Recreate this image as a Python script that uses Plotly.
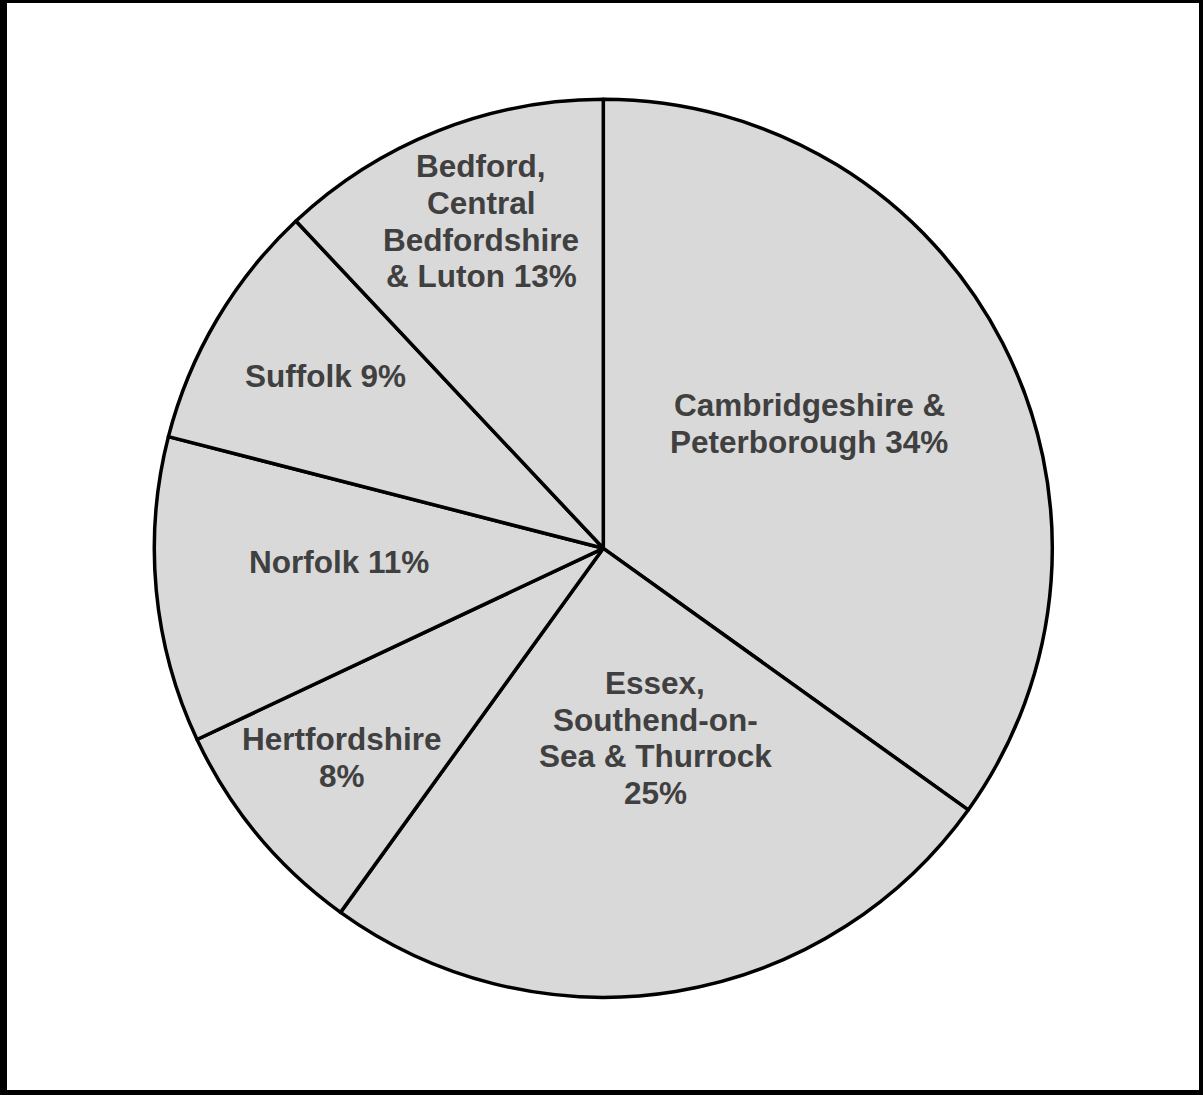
import plotly.graph_objects as go

# ---- data ----
regions = [
    "Cambridgeshire & Peterborough",
    "Essex, Southend-on-Sea & Thurrock",
    "Hertfordshire",
    "Norfolk",
    "Suffolk",
    "Bedford, Central Bedfordshire & Luton",
]
shares = [34.9, 25.05, 8.05, 11.0, 9.0, 12.0]
label_lines = [
    ["Cambridgeshire &", "Peterborough 34%"],
    ["Essex,", "Southend-on-", "Sea & Thurrock", "25%"],
    ["Hertfordshire", "8%"],
    ["Norfolk 11%"],
    ["Suffolk 9%"],
    ["Bedford,", "Central", "Bedfordshire", "& Luton 13%"],
]

# ---- layout (pixel positions of label blocks: centre x, first baseline y) ----
W, H = 1203, 1095
label_pos = [(809, 416), (655, 694), (342, 750), (339, 573.3), (325, 387.3), (481, 177.3)]
LINE_GAP = 36.7
FONT_SIZE = 31.5
cx, cy, r = 603.3, 548.3, 449.0

fig = go.Figure(go.Pie(
    labels=regions,
    values=shares,
    sort=False,
    direction="clockwise",
    rotation=0,
    textinfo="none",
    hoverinfo="skip",
    marker=dict(colors=["#d9d9d9"] * len(regions), line=dict(color="black", width=3.5)),
    domain=dict(x=[(cx - r) / W, (cx + r) / W], y=[1 - (cy + r) / H, 1 - (cy - r) / H]),
    showlegend=False,
))

annotations = []
for lines, (px, py) in zip(label_lines, label_pos):
    for i, line in enumerate(lines):
        base = py + i * LINE_GAP
        mid = base - 0.3465 * FONT_SIZE
        annotations.append(dict(
            x=px / W, y=1 - mid / H, xref="paper", yref="paper",
            text="<b>" + line + "</b>", showarrow=False,
            xanchor="center", yanchor="middle",
            font=dict(family="Liberation Sans, Arial", size=FONT_SIZE, color="#404040"),
        ))

shapes = []
for x0, x1, y0, y1 in [(0, 7, 0, H), (W - 4, W, 0, H), (0, W, 0, 3), (0, W, H - 5, H)]:
    shapes.append(dict(type="rect", xref="paper", yref="paper",
                       x0=x0 / W, x1=x1 / W, y0=1 - y1 / H, y1=1 - y0 / H,
                       fillcolor="black", line=dict(width=0)))

fig.update_layout(
    width=W, height=H,
    margin=dict(l=0, r=0, t=0, b=0),
    paper_bgcolor="white", plot_bgcolor="white",
    annotations=annotations,
    shapes=shapes,
)

fig.write_html("out.html")
